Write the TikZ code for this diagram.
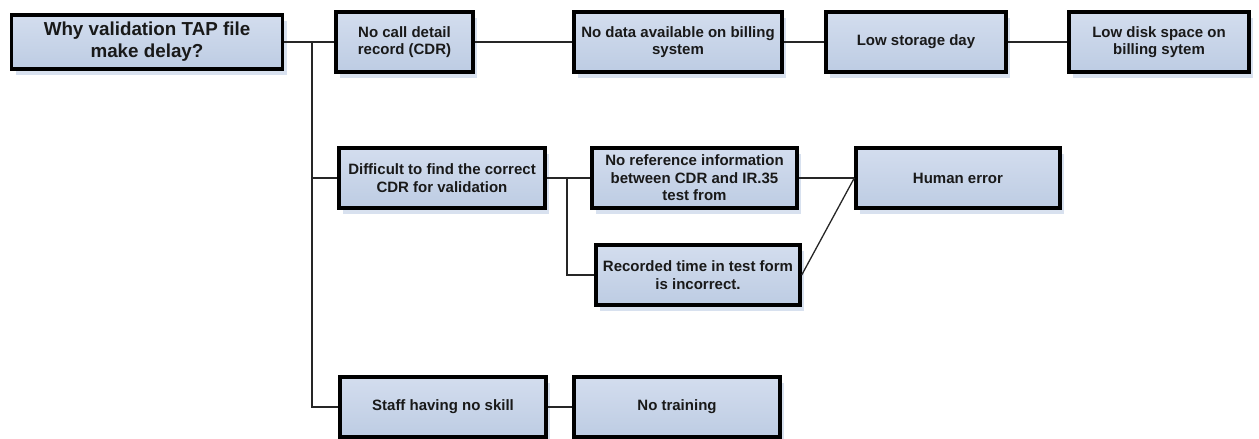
\documentclass[tikz,border=0pt]{standalone}
\usepackage{fontspec}
\setmainfont{Liberation Sans}
\usetikzlibrary{calc}
\definecolor{boxtop}{HTML}{D3DDEE}
\definecolor{boxbot}{HTML}{BDCCE3}
\definecolor{shadowc}{HTML}{D8E1EF}
\tikzset{
  box/.style={draw=black, line width=3.4pt, top color=boxtop, bottom color=boxbot,
    align=center, font=\bfseries\fontsize{15}{17.5}\selectfont, inner sep=1pt,
    minimum height=60, text=black!90,
    preaction={fill=shadowc, draw=none, transform canvas={shift={(4pt,-6pt)}}}},
  link/.style={draw=black!85, line width=1.3pt}
}
\begin{document}
\begin{tikzpicture}[x=1pt,y=-1pt]
  \useasboundingbox (0,0) rectangle (1259,439);
  % root question
  \node[box, minimum width=271, minimum height=54, font=\bfseries\fontsize{18.8}{22}\selectfont] (root) at (147,42)
    {Why validation TAP file\\make delay?};
  % first chain
  \node[box, minimum width=137] (cdr) at (404.5,42) {No call detail\\record (CDR)};
  \node[box, minimum width=208] (nodata) at (678,42) {No data available on billing\\system};
  \node[box, minimum width=180] (lowstor) at (916,42) {Low storage day};
  \node[box, minimum width=180] (lowdisk) at (1159,42) {Low disk space on\\billing sytem};
  % second chain
  \node[box, minimum width=206] (diff) at (442,178) {Difficult to find the correct\\CDR for validation};
  \node[box, minimum width=205] (noref) at (694.5,178) {No reference information\\between CDR and IR.35\\test from};
  \node[box, minimum width=204] (rec) at (698,275) {Recorded time in test form\\is incorrect.};
  \node[box, minimum width=204] (human) at (958,178) {Human error};
  % third chain
  \node[box, minimum width=206] (staff) at (443,407) {Staff having no skill};
  \node[box, minimum width=206] (train) at (677,407) {No training};

  % trunk and branch points
  \coordinate (trunk) at (312,42);
  \coordinate (fork) at (567,178);

  \draw[link] (root.east) -- (cdr.west);
  \draw[link] (trunk) |- (staff.west);
  \draw[link] (trunk |- diff.west) -- (diff.west);
  \draw[link] (cdr.east) -- (nodata.west);
  \draw[link] (nodata.east) -- (lowstor.west);
  \draw[link] (lowstor.east) -- (lowdisk.west);
  \draw[link] (diff.east) -- (noref.west);
  \draw[link] (fork) |- (rec.west);
  \draw[link] (noref.east) -- (human.west);
  \draw[link] (rec.east) -- (human.west);
  \draw[link] (staff.east) -- (train.west);
\end{tikzpicture}
\end{document}
